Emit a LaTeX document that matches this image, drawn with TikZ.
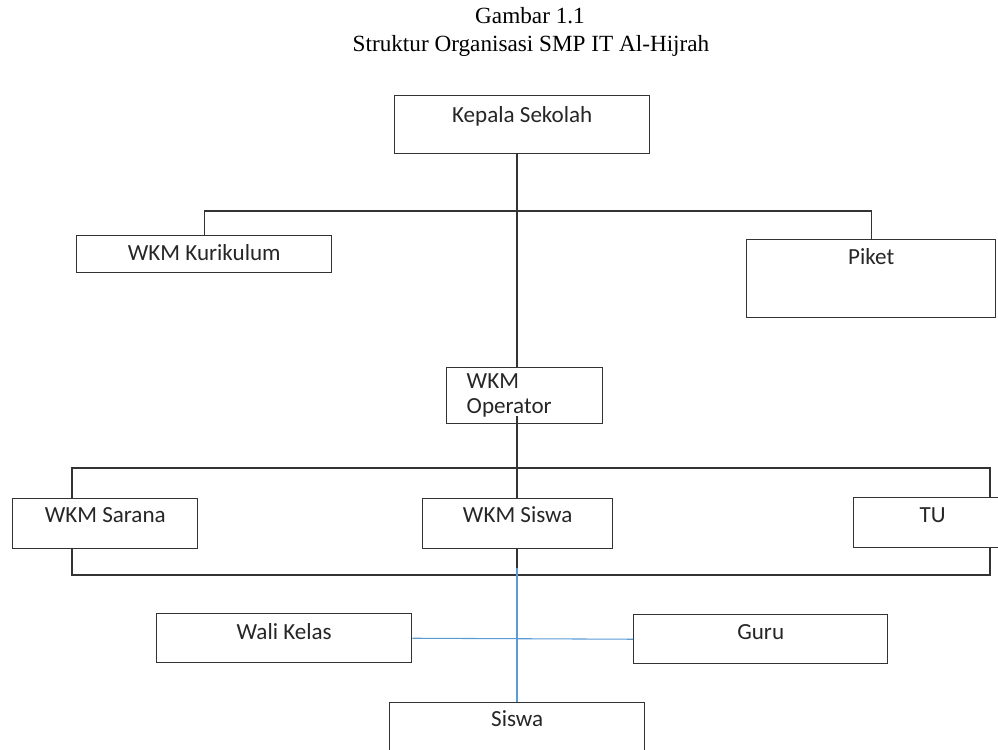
\documentclass[tikz,border=0pt]{standalone}
\usepackage{fontspec}
\setmainfont{Liberation Serif}
\newfontfamily\kotakfont{Carlito}
\usepackage{tikz}
\usetikzlibrary{positioning}
\definecolor{garisbiru}{RGB}{91,155,213}

\begin{document}
\begin{tikzpicture}[
    x=0.75pt,
    y=-0.75pt,
    judul/.style={
		font=\fontsize{17.4}{20}\selectfont,
		anchor=base
	},
    jabatan/.style={
		rectangle,
		draw=black!80,
		line width=1.1pt,
		inner sep=0pt,
		anchor=north west,
		text=black!85,
		font=\kotakfont\fontsize{17.3}{19}\selectfont
	},
    garis/.style={
		draw=black!80,
		line width=1pt
	},
    biru/.style={
		draw=garisbiru,
		line width=0.8pt
	}
  ]
  \useasboundingbox (0,0) rectangle (998,749);
  \clip (0,0) rectangle (998,749);

  % judul gambar
  \node [judul] (gambar) at (530,24) {Gambar 1.1};
  \node [judul] (struktur) at (531,52) {Struktur Organisasi SMP IT Al-Hijrah};

  % kotak jabatan
  \node [jabatan, minimum width=191.25pt, text height=20.25pt, text depth=23.25pt] (kepala) at (394,95) {Kepala Sekolah};
  \node [jabatan, minimum width=191.25pt, text height=18.75pt, text depth=9pt] (kurikulum) at (76,235) {WKM Kurikulum};
  \node [jabatan, minimum width=186.75pt, text height=18.75pt, text depth=39.75pt] (piket) at (746,239) {Piket};
  \node [jabatan, minimum width=117pt, minimum height=42pt, text width=87pt, align=left] (operator) at (446,367) {WKM\\Operator};

  \node [jabatan, minimum width=138.75pt, text height=18pt, text depth=19.5pt] (sarana) at (12,498) {WKM Sarana};
  \node [jabatan, minimum width=142.5pt, text height=18pt, text depth=19.5pt] (wkmsiswa) at (422,498) {WKM Siswa};
  \node [jabatan, minimum width=118.5pt, text height=18.75pt, text depth=18.75pt] (tu) at (853,497) {TU};

  \node [jabatan, minimum width=191.25pt, text height=19.5pt, text depth=17.25pt] (walikelas) at (156,613) {Wali Kelas};
  \node [jabatan, minimum width=190.5pt, text height=18.75pt, text depth=18pt] (guru) at (633,614) {Guru};
  \node [jabatan, minimum width=191.25pt, text height=18pt, text depth=19.5pt] (siswa) at (389,702) {Siswa};

  % titik bantu garis
  \coordinate (tiang) at (517,0);
  \coordinate (kiri) at (72,0);
  \coordinate (kanan) at (990,0);
  \coordinate (atas) at (0,211);
  \coordinate (tengah) at (0,468);
  \coordinate (bawah) at (0,575);

  \draw [garis] (kepala.south -| tiang) -- (operator.north -| tiang);
  \draw [garis] (kurikulum.north) -- (kurikulum.north |- atas) -- (piket.north |- atas) -- (piket.north);

  \draw [garis] ([yshift=6pt]operator.south -| tiang) -- (wkmsiswa.north -| tiang);
  \draw [garis] (sarana.north -| kiri) -- (kiri |- tengah) -- (kanan |- tengah) -- (tu.north -| kanan);
  \draw [garis] (sarana.south -| kiri) -- (kiri |- bawah) -- (kanan |- bawah) -- (tu.south -| kanan);
  \draw [garis] (wkmsiswa.south -| tiang) -- (tiang |- bawah);

  \draw [biru] ([yshift=5pt]tiang |- bawah) -- (siswa.north -| tiang);
  \draw [biru] (walikelas.east) -- (guru.west);

\end{tikzpicture}
\end{document}
